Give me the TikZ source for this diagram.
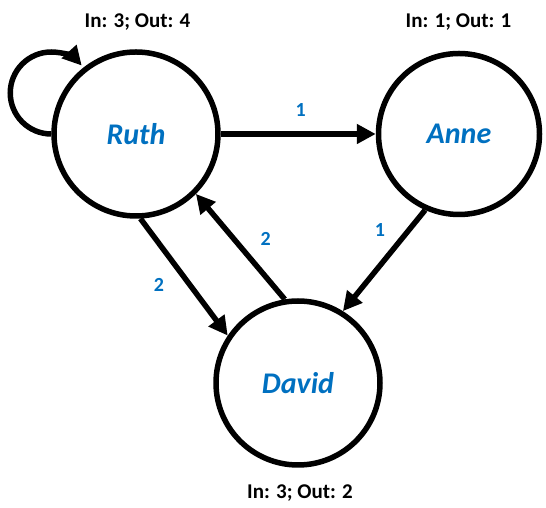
\documentclass[tikz,border=0pt]{standalone}
\usepackage{fontspec}
\setmainfont{Carlito}
\usetikzlibrary{arrows.meta}
\definecolor{nblue}{RGB}{0,112,192}
\begin{document}
\begin{tikzpicture}[x=1pt,y=1pt,
  person/.style={circle,draw,line width=5.5pt,inner sep=0pt,minimum size=#1,
    font=\fontsize{30}{32}\selectfont\bfseries\itshape,text=nblue},
  conn/.style={line width=5.5pt,-{Triangle[length=19pt,width=19pt]}},
  wlabel/.style={font=\fontsize{20}{22}\selectfont\bfseries,text=nblue,inner sep=0pt},
  degree/.style={font=\fontsize{21}{24}\selectfont\bfseries,inner sep=0pt}]
\useasboundingbox (0,0) rectangle (546,508);
\node[person=164pt] (Ruth) at (136,374) {Ruth};
\node[person=161pt] (Anne) at (459,374) {Anne};
\node[person=164pt] (David) at (298,125) {David};
\node[degree] (dr) at (137.5,486) {In: 3; Out: 4};
\node[degree] (da) at (458.5,486) {In: 1; Out: 1};
\node[degree] (dd) at (300,15) {In: 3; Out: 2};
\draw[conn] (Ruth) -- (Anne);
\draw[conn] (Ruth.-87) -- (David.146);
\draw[conn] (David.99) -- (Ruth.-45);
\draw[conn] (Anne.246) -- (David.58);
\draw[conn] (Ruth.180) arc[start angle=-90, end angle=-318, radius=41pt];
\node[wlabel] (w1) at (300.7,398) {1};
\node[wlabel] (w2) at (380,278) {1};
\node[wlabel] (w3) at (265.7,269) {2};
\node[wlabel] (w4) at (159,223) {2};
\end{tikzpicture}
\end{document}
